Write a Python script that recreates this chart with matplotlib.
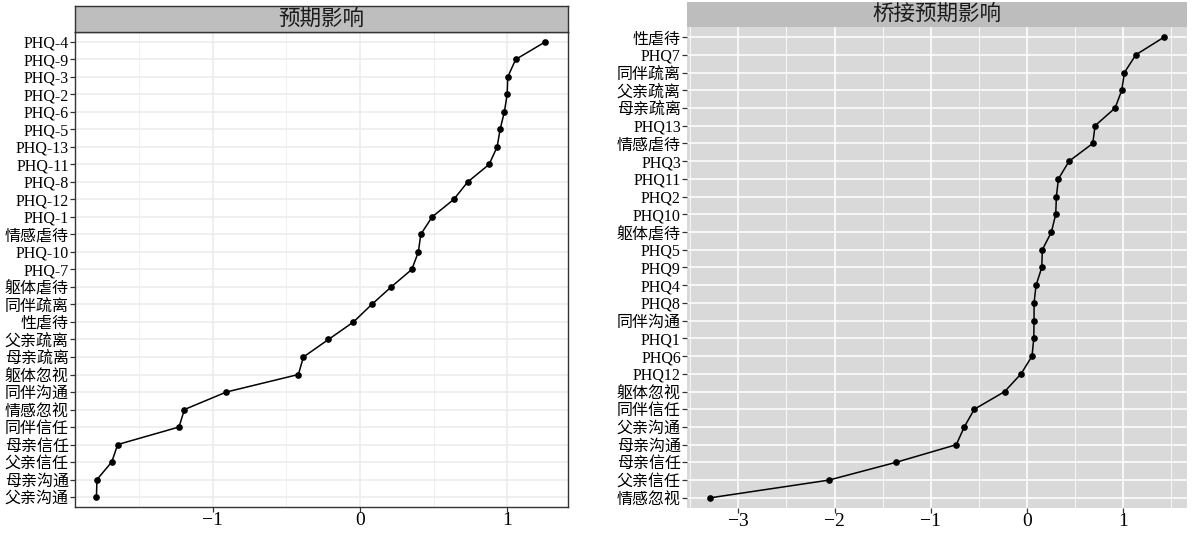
import matplotlib.pyplot as plt
from matplotlib.ticker import MultipleLocator

plt.rcParams['font.family'] = ['Liberation Serif', 'Noto Sans CJK SC']

# left panel: 预期影响 (bottom to top)
left_labels = ['父亲沟通', '母亲沟通', '父亲信任', '母亲信任', '同伴信任', '情感忽视',
               '同伴沟通', '躯体忽视', '母亲疏离', '父亲疏离', '性虐待', '同伴疏离',
               '躯体虐待', 'PHQ-7', 'PHQ-10', '情感虐待', 'PHQ-1', 'PHQ-12', 'PHQ-8',
               'PHQ-11', 'PHQ-13', 'PHQ-5', 'PHQ-6', 'PHQ-2', 'PHQ-3', 'PHQ-9', 'PHQ-4']
left_values = [-1.791, -1.787, -1.687, -1.646, -1.230, -1.193,
               -0.908, -0.419, -0.385, -0.215, -0.045, 0.079,
               0.211, 0.351, 0.396, 0.412, 0.489, 0.636, 0.731,
               0.876, 0.931, 0.951, 0.980, 0.999, 1.003, 1.057, 1.257]

# right panel: 桥接预期影响 (bottom to top)
right_labels = ['情感忽视', '父亲信任', '母亲信任', '母亲沟通', '父亲沟通', '同伴信任',
                '躯体忽视', 'PHQ12', 'PHQ6', 'PHQ1', '同伴沟通', 'PHQ8', 'PHQ4',
                'PHQ9', 'PHQ5', '躯体虐待', 'PHQ10', 'PHQ2', 'PHQ11', 'PHQ3',
                '情感虐待', 'PHQ13', '母亲疏离', '父亲疏离', '同伴疏离', 'PHQ7', '性虐待']
right_values = [-3.295, -2.061, -1.365, -0.735, -0.652, -0.548,
                -0.232, -0.062, 0.052, 0.070, 0.073, 0.073, 0.094,
                0.153, 0.159, 0.253, 0.298, 0.305, 0.326, 0.437,
                0.683, 0.707, 0.915, 0.984, 1.012, 1.130, 1.424]


def panel(fig, rect, strip_rect, labels, values, title, xlim, grey):
    ax = fig.add_axes(rect)
    ypos = list(range(len(labels)))
    grid_col = 'white' if grey else '#EBEBEB'
    ax.set_facecolor('#D9D9D9' if grey else 'white')
    ax.set_xlim(*xlim)
    ax.set_ylim(-0.57, len(labels) - 0.43)
    ax.xaxis.set_major_locator(MultipleLocator(1))
    ax.xaxis.set_minor_locator(MultipleLocator(0.5))
    ax.set_yticks(ypos)
    ax.set_yticklabels(labels)
    ax.grid(True, which='major', color=grid_col, linewidth=1.1)
    ax.grid(True, which='minor', axis='x', color=grid_col, linewidth=0.55)
    ax.set_axisbelow(True)
    ax.plot(values, ypos, color='black', linewidth=1.1, marker='o',
            markersize=3.8, zorder=3)
    ax.tick_params(axis='both', which='major', length=3.5, width=0.9,
                   color='#333333', labelcolor='black')
    ax.tick_params(axis='y', labelsize=11.5, pad=1)
    ax.tick_params(axis='x', labelsize=14, pad=0)
    ax.tick_params(which='minor', length=0)
    for s in ax.spines.values():
        if grey:
            s.set_visible(False)
        else:
            s.set_color('#333333')
            s.set_linewidth(1.0)

    sx = fig.add_axes(strip_rect)
    sx.set_facecolor('#BDBDBD' if grey else '#BEBEBE')
    sx.set_xticks([])
    sx.set_yticks([])
    for s in sx.spines.values():
        if grey:
            s.set_visible(False)
        else:
            s.set_color('#333333')
            s.set_linewidth(1.0)
    sx.text(0.5, 0.48, title, ha='center', va='center', fontsize=15.5,
            color='#1a1a1a', transform=sx.transAxes)
    return ax


fig = plt.figure(figsize=(11.95, 5.38), dpi=100)

panel(fig, [0.0628, 0.0576, 0.4126, 0.883], [0.0628, 0.9405, 0.4126, 0.0483],
      left_labels, left_values, '预期影响', (-1.936, 1.413), False)
panel(fig, [0.575, 0.0558, 0.4184, 0.894], [0.575, 0.9498, 0.4184, 0.0465],
      right_labels, right_values, '桥接预期影响', (-3.531, 1.663), True)

plt.savefig('out.png', dpi=100)
